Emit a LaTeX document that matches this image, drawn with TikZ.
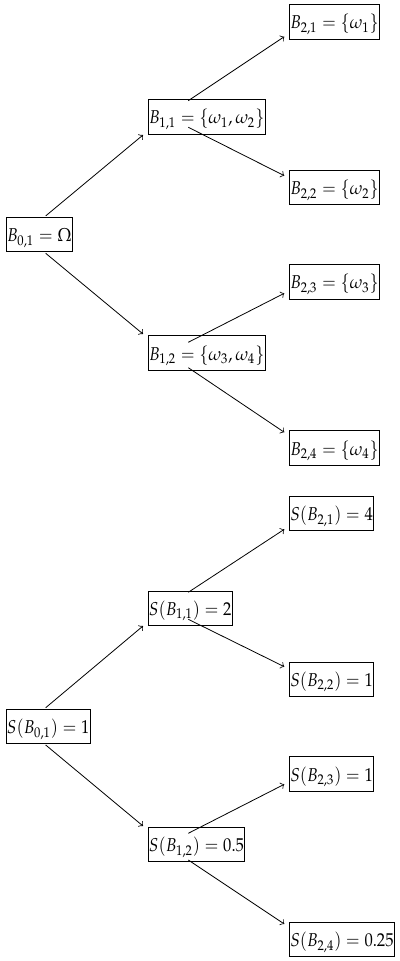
\documentclass[tikz,border=0pt]{standalone}
\usepackage{mathpazo}
\newcommand\vstretch[1]{\scalebox{1}[1.12]{#1}}
\begin{document}
\begin{tikzpicture}[x=0.5pt,y=-0.5pt,
  box/.style={draw,anchor=west,inner xsep=0.3pt,inner ysep=1pt,text height=11.3pt,text depth=4pt,font=\fontsize{8.3}{10}\selectfont},
  arr/.style={->,line width=0.4pt}]
\useasboundingbox (0,0) rectangle (400,961);
% top tree
\node[box] (b01) at (6,234.5) {\vstretch{$B_{0,1} = \Omega$}};
\node[box] (b11) at (148,116.7) {\vstretch{$B_{1,1} = \{\omega_1, \omega_2\}$}};
\node[box] (b12) at (148,353.2) {\vstretch{$B_{1,2} = \{\omega_3, \omega_4\}$}};
\node[box] (b21) at (289.3,21.7) {\vstretch{$B_{2,1} = \{\omega_1\}$}};
\node[box] (b22) at (289.3,187.5) {\vstretch{$B_{2,2} = \{\omega_2\}$}};
\node[box] (b23) at (289.3,281.7) {\vstretch{$B_{2,3} = \{\omega_3\}$}};
\node[box] (b24) at (289.3,447.7) {\vstretch{$B_{2,4} = \{\omega_4\}$}};
\draw[arr] ([shift={(39.7,-18.6)}]b01.west) -- ([shift={(-5,18.3)}]b11.west);
\draw[arr] ([shift={(39.7,18.8)}]b01.west) -- ([shift={(-5,-19.2)}]b12.west);
\draw[arr] ([shift={(40.3,-16)}]b11.west) -- ([shift={(-5,15)}]b21.west);
\draw[arr] ([shift={(40.3,10.6)}]b11.west) -- ([shift={(-5,-11.8)}]b22.west);
\draw[arr] ([shift={(40.3,-10.9)}]b12.west) -- ([shift={(-5,11.6)}]b23.west);
\draw[arr] ([shift={(40.3,14.5)}]b12.west) -- ([shift={(-5,-15.4)}]b24.west);
% bottom tree
\node[box] (s01) at (6,726.5) {\vstretch{$S(B_{0,1}) = 1$}};
\node[box] (s11) at (148,608.2) {\vstretch{$S(B_{1,1}) = 2$}};
\node[box] (s12) at (148,844.5) {\vstretch{$S(B_{1,2}) = 0.5$}};
\node[box] (s21) at (289.3,513.3) {\vstretch{$S(B_{2,1}) = 4$}};
\node[box] (s22) at (289.3,679.3) {\vstretch{$S(B_{2,2}) = 1$}};
\node[box] (s23) at (289.3,773.7) {\vstretch{$S(B_{2,3}) = 1$}};
\node[box] (s24) at (289.3,939.3) {\vstretch{$S(B_{2,4}) = 0.25$}};
\draw[arr] ([shift={(39.7,-18.8)}]s01.west) -- ([shift={(-5,17.8)}]s11.west);
\draw[arr] ([shift={(39.7,18.5)}]s01.west) -- ([shift={(-5,-18.5)}]s12.west);
\draw[arr] ([shift={(40.3,-15.9)}]s11.west) -- ([shift={(-5,16)}]s21.west);
\draw[arr] ([shift={(40.3,11.1)}]s11.west) -- ([shift={(-5,-12.6)}]s22.west);
\draw[arr] ([shift={(40.3,-11.2)}]s12.west) -- ([shift={(-5,10.6)}]s23.west);
\draw[arr] ([shift={(40.3,15.5)}]s12.west) -- ([shift={(-5,-15.3)}]s24.west);
\end{tikzpicture}
\end{document}
